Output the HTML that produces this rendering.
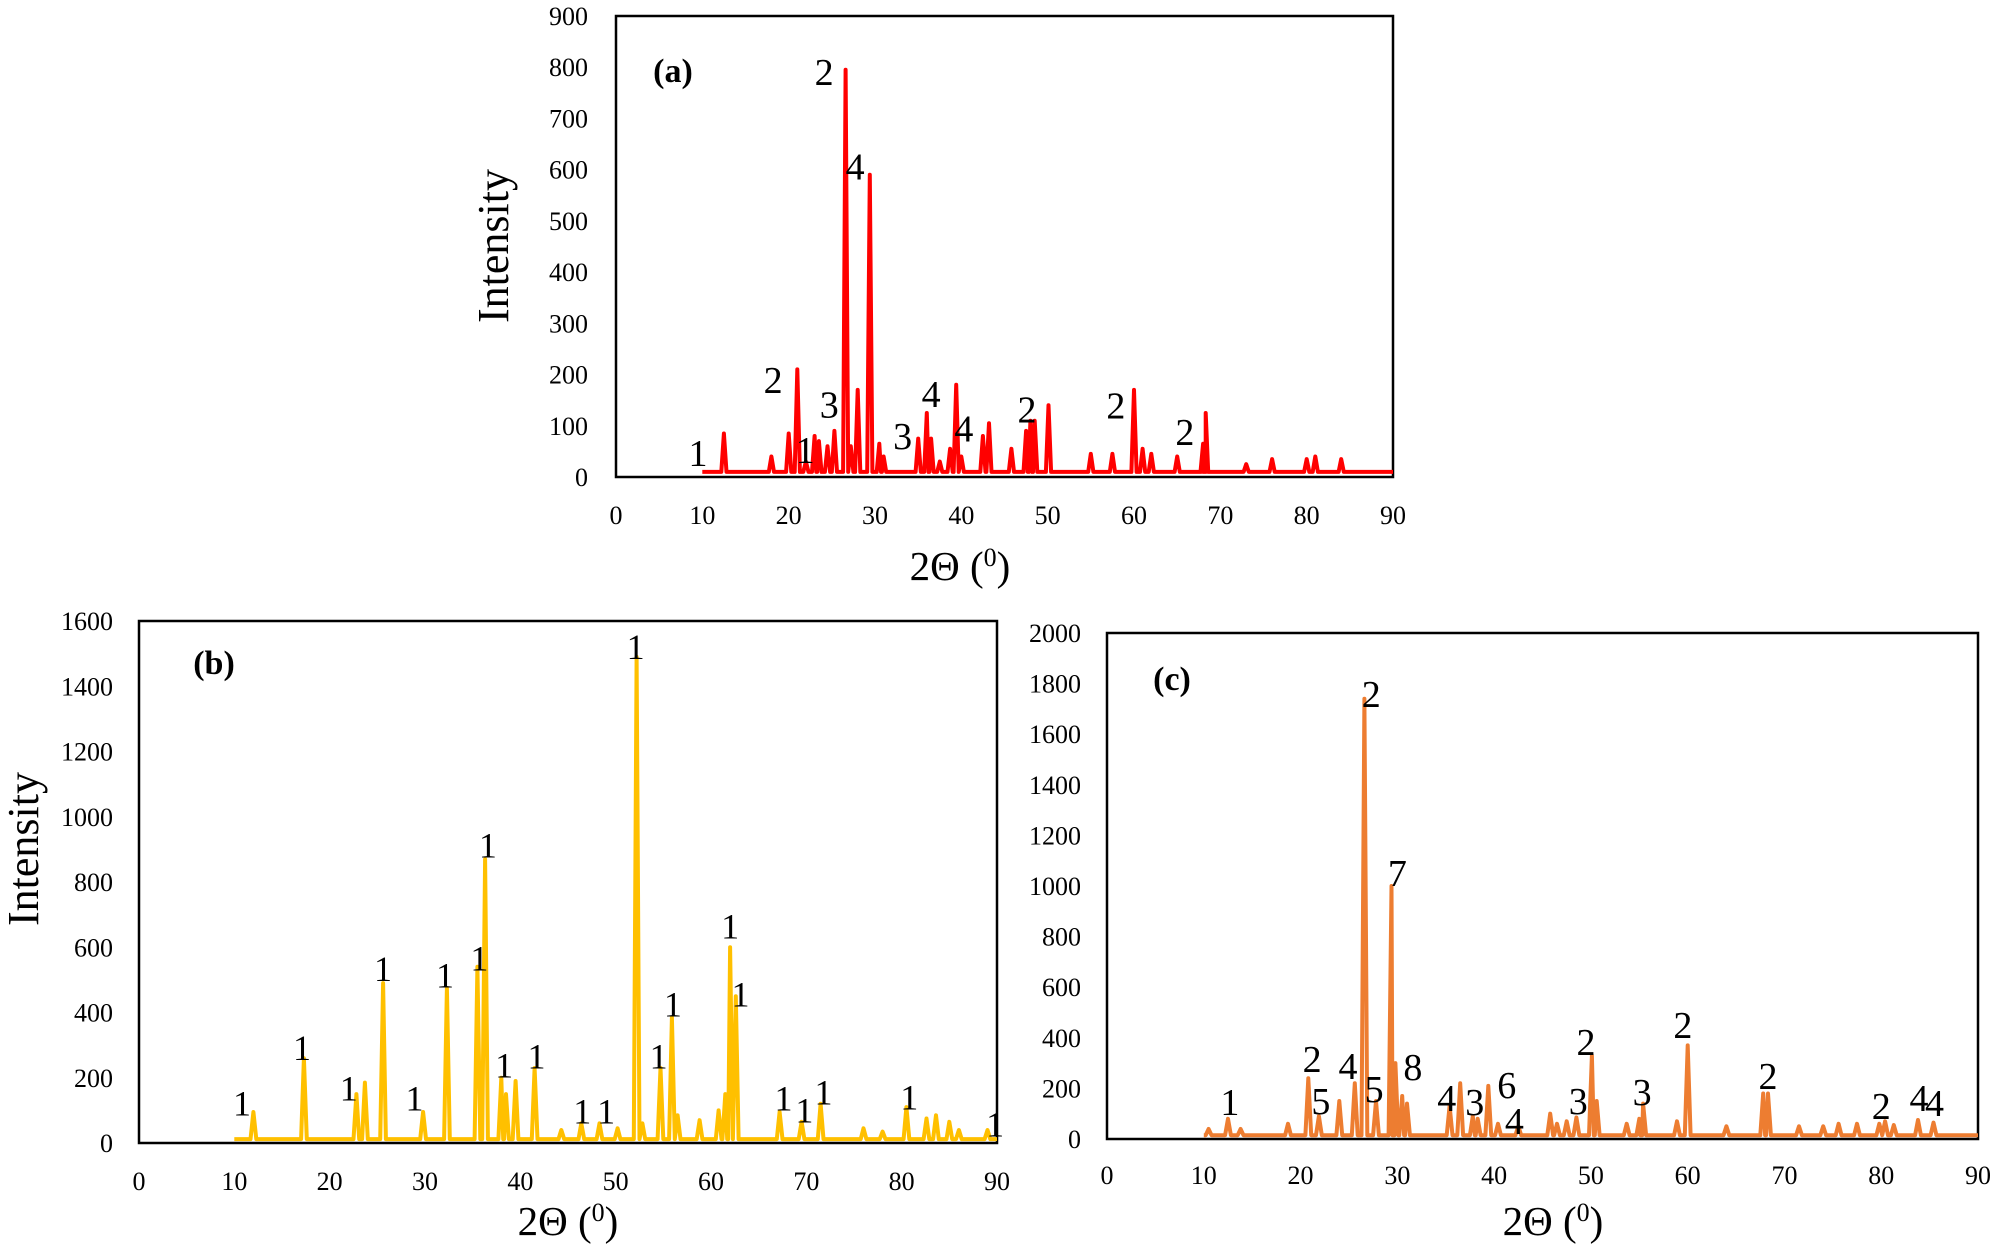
<!DOCTYPE html>
<html><head><meta charset="utf-8"><style>
html,body{margin:0;padding:0;background:#fff}
svg{display:block}
text{font-family:"Liberation Serif",serif;fill:#000}
</style></head><body>
<svg id="fig" width="1997" height="1250" viewBox="0 0 1997 1250" xmlns="http://www.w3.org/2000/svg"></svg>
<script>
// ---- Panel (a) data ----
const aPeakPos = [12.5,18,20,21,22,23,23.5,24.5,25.3,26.6,27.2,28,29.4,30.5,31,35,36,36.5,37.5,38.7,39.4,40,42.5,43.2,45.8,47.5,48,48.5,50.1,55,57.5,60,61,62,65,68,68.3,73,76,80,81,84];
const aPeakInt = [85,40,85,210,30,80,70,60,90,795,60,170,590,65,40,75,125,75,30,55,180,40,80,105,55,90,110,110,140,45,45,170,55,45,40,65,125,25,35,35,40,35];
const aLabelText = ["1","2","1","3","2","4","3","4","4","2","2","2"];
const aLabelX = [9.5,18.2,21.9,24.7,24.1,27.7,33.2,36.5,40.3,47.6,57.9,65.9];
const aLabelY = [47,189,53,142,791,606,80,162,95,132,140,88];
const aYTicks = [0,100,200,300,400,500,600,700,800,900];
// ---- Panel (b) data ----
const bPeakPos = [12,17.3,22.8,23.7,25.6,29.8,32.3,35.5,36.3,38,38.5,39.5,41.5,44.3,46.4,48.3,50.2,52.2,52.8,54.7,55.9,56.5,58.8,60.8,61.5,62,62.6,67.2,69.5,71.5,76,78,80.5,82.6,83.6,85,86,89];
const bPeakInt = [95,260,150,185,490,95,475,540,870,200,150,190,230,40,60,60,45,1490,60,230,385,85,70,100,150,600,450,95,65,120,45,35,110,75,85,65,40,40];
const bLabelText = ["1","1","1","1","1","1","1","1","1","1","1","1","1","1","1","1","1","1","1","1","1","1"];
const bLabelX = [10.8,17.1,22,25.6,28.9,32.1,35.7,36.6,38.3,41.7,46.5,49,52.1,54.5,56,62,63.1,67.6,69.8,71.8,80.8,89.8];
const bLabelY = [124,295,170,537,140,517,569,915,241,268,100,100,1524,268,427,666,458,140,103,158,143,60];
const bYTicks = [0,200,400,600,800,1000,1200,1400,1600];
// ---- Panel (c) data ----
const cPeakPos = [10.5,12.5,13.8,18.7,20.8,21.9,24,25.6,26.6,27.8,29.4,29.8,30.5,31,35.4,36.5,37.8,38.3,39.4,40.4,42.5,45.8,46.5,47.5,48.5,50.1,50.6,53.7,55,55.4,58.9,60,64,67.8,68.3,71.5,74,75.6,77.5,79.8,80.4,81.3,83.8,85.4];
const cPeakInt = [40,80,40,60,240,90,150,220,1740,150,1000,300,170,140,130,220,90,80,210,60,50,100,60,70,85,330,150,60,80,140,70,370,50,180,180,50,50,60,60,60,70,55,75,65];
const cLabelText = ["1","2","5","4","2","5","7","8","4","3","6","4","3","2","3","2","2","2","4","4"];
const cLabelX = [12.7,21.2,22.1,24.9,27.3,27.6,30,31.6,35.1,38,41.3,42.1,48.7,49.5,55.3,59.5,68.3,80,83.9,85.5];
const cLabelY = [146,316,150,289,1759,198,1051,285,162,146,213,71,150,383,186,451,249,130,162,142];
const cYTicks = [0,200,400,600,800,1000,1200,1400,1600,1800,2000];
const xTicks = [0,10,20,30,40,50,60,70,80,90];

const NS="http://www.w3.org/2000/svg";
const svg=document.getElementById('fig');
function mk(tag,attrs,parent){const e=document.createElementNS(NS,tag);for(const k in attrs)e.setAttribute(k,attrs[k]);(parent||svg).appendChild(e);return e;}

function panel(cfg){
  const g=mk('g',{});
  
  
  const sx=v=>cfg.x0+(v-0)/(90-0)*(cfg.x1-cfg.x0);
  const sy=v=>cfg.y0-(v/cfg.ymax)*(cfg.y0-cfg.y1);
  const frame=mk('rect',{x:cfg.x0,y:cfg.y1,width:cfg.x1-cfg.x0,height:cfg.y0-cfg.y1,fill:'none',stroke:'#000','stroke-width':2.5},g);
  
  
  cfg.yticks.forEach(v=>{
    const t=mk('text',{x:cfg.x0-cfg.ylabOff,y:sy(v)+9,'font-size':26,'text-anchor':'end'},g);
    t.textContent=v;
    
    
  });
  xTicks.forEach(v=>{
    const t=mk('text',{x:sx(v),y:cfg.y0+cfg.xlabOff,'font-size':26,'text-anchor':'middle'},g);
    t.textContent=v;
    
    
  });
  const b=cfg.base;
  const pts=[[10,b]];
  cfg.pos.forEach((p,i)=>{pts.push([p-0.3,b],[p,cfg.int[i]],[p+0.3,b]);});
  pts.push([90,b]);
  pts.sort((a,c)=>a[0]-c[0]);
  const d=pts.map((q,i)=>(i?'L':'M')+sx(q[0]).toFixed(1)+' '+sy(q[1]).toFixed(1)).join(' ');
  const path=mk('path',{d:d,fill:'none',stroke:cfg.color,'stroke-width':4,'stroke-linejoin':'round'},g);
  
  
  cfg.lt.forEach((s,i)=>{
    const t=mk('text',{x:sx(cfg.lx[i]),y:sy(cfg.ly[i])+13,'font-size':cfg.lfs,'text-anchor':'middle'},g);
    t.textContent=s;
    
    
  });
  const pl=mk('text',{x:cfg.plx,y:cfg.ply,'font-size':34,'font-weight':'bold','text-anchor':'middle'},g);
  pl.textContent=cfg.plabel;
  
  
  const xt=mk('text',{x:cfg.xtx,y:cfg.xty,'font-size':41,'text-anchor':'middle'},g);
  xt.innerHTML='2Θ (<tspan font-size="26" dy="-14">0</tspan><tspan dy="14">)</tspan>';
  
  
  if(cfg.ytx){
    const yt=mk('text',{x:0,y:0,'font-size':44,'text-anchor':'middle',transform:`translate(${cfg.ytx},${cfg.yty}) rotate(-90)`},g);
    yt.textContent='Intensity';
    
    
  }
}
panel({id:'a',x0:616,x1:1393,y0:477,y1:16,ymax:900,yticks:aYTicks,ylabOff:28,xlabOff:47,base:10,
  pos:aPeakPos,int:aPeakInt,lt:aLabelText,lx:aLabelX,ly:aLabelY,lfs:38,color:'#ff0000',
  plabel:'(a)',plx:673,ply:82,xtx:960,xty:580,ytx:508,yty:246});
panel({id:'b',x0:139,x1:997,y0:1143,y1:621,ymax:1600,yticks:bYTicks,ylabOff:26,xlabOff:47,base:12,
  pos:bPeakPos,int:bPeakInt,lt:bLabelText,lx:bLabelX,ly:bLabelY,lfs:36,color:'#ffc000',
  plabel:'(b)',plx:214,ply:674,xtx:568,xty:1235,ytx:38,yty:849});
panel({id:'c',x0:1107,x1:1978,y0:1139,y1:633,ymax:2000,yticks:cYTicks,ylabOff:26,xlabOff:45,base:15,
  pos:cPeakPos,int:cPeakInt,lt:cLabelText,lx:cLabelX,ly:cLabelY,lfs:38,color:'#ed7d31',
  plabel:'(c)',plx:1172,ply:690,xtx:1553,xty:1235});
</script>
</body></html>
